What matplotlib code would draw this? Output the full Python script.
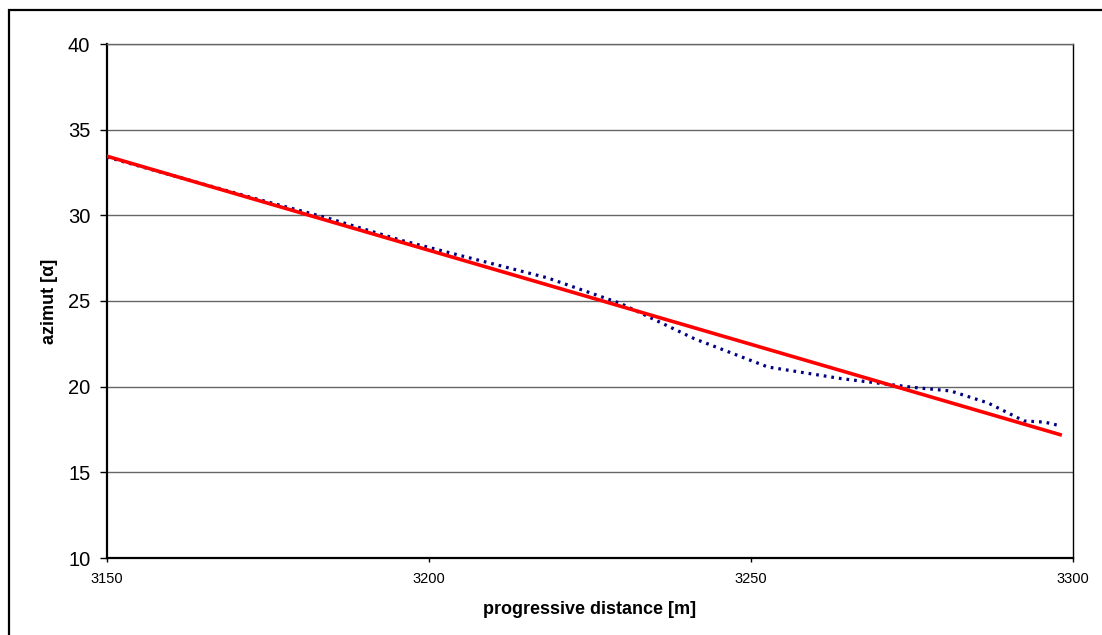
"""Azimut vs. progressive distance with linear trend."""
import matplotlib
matplotlib.use("Agg")
import matplotlib.pyplot as plt
from matplotlib.patches import Rectangle

# measured azimut along the track (vertices of the dotted series)
distance_m = [3150.0, 3161.4, 3172.8, 3184.2, 3195.6, 3207.0, 3218.4, 3229.8,
              3241.2, 3252.6, 3264.0, 3275.4, 3281.0, 3286.8, 3292.4, 3295.6, 3298.0]
azimut = [33.4, 32.2, 31.0, 29.85, 28.55, 27.45, 26.35, 24.85,
          22.8, 21.15, 20.47, 19.95, 19.75, 19.05, 18.0, 17.93, 17.72]

# linear trend end points
trend_x = [3150.0, 3298.0]
trend_y = [33.45, 17.2]

y_ticks = [10, 15, 20, 25, 30, 35, 40]
x_ticks = [3150, 3200, 3250, 3300]

plt.rcParams["font.family"] = ["Liberation Sans", "DejaVu Sans"]

W, H = 1102, 635
fig = plt.figure(figsize=(W / 100, H / 100), dpi=100)
ax = fig.add_axes([107 / W, (H - 558) / H, (1073 - 107) / W, (558 - 44) / H])

ax.plot(distance_m, azimut, color="#000080", lw=2.3,
        linestyle=(0, (0.85, 1.55)), dash_capstyle="butt", zorder=3)
ax.plot(trend_x, trend_y, color="#FF0000", lw=2.6, zorder=4)

ax.set_xlim(3150, 3300)
ax.set_ylim(10, 40)
ax.set_xticks(x_ticks)
ax.set_yticks(y_ticks)
ax.grid(axis="y", color="#666666", lw=1.0)
ax.set_axisbelow(True)

ax.tick_params(axis="y", direction="out", length=5, width=1, pad=7, labelsize=14.5)
ax.tick_params(axis="x", direction="out", length=3, width=1, pad=7, labelsize=10.5)

for side in ("left", "bottom"):
    ax.spines[side].set_linewidth(1.6)
    ax.spines[side].set_color("black")
ax.spines["right"].set_linewidth(1.0)
ax.spines["top"].set_linewidth(1.0)
ax.spines["top"].set_color("#666666")

ax.set_xlabel("progressive distance [m]", fontsize=13, fontweight="bold", labelpad=11)
ax.set_ylabel("azimut [\u03b1]", fontsize=13, fontweight="bold", labelpad=7)

# outer chart border (clipped at right/bottom edge like the original)
fig.add_artist(Rectangle((9 / W, -0.1), 1.2, (H - 10) / H + 0.1,
                         transform=fig.transFigure, fill=False,
                         ec="black", lw=1.6))

fig.savefig("out.png", dpi=100)
